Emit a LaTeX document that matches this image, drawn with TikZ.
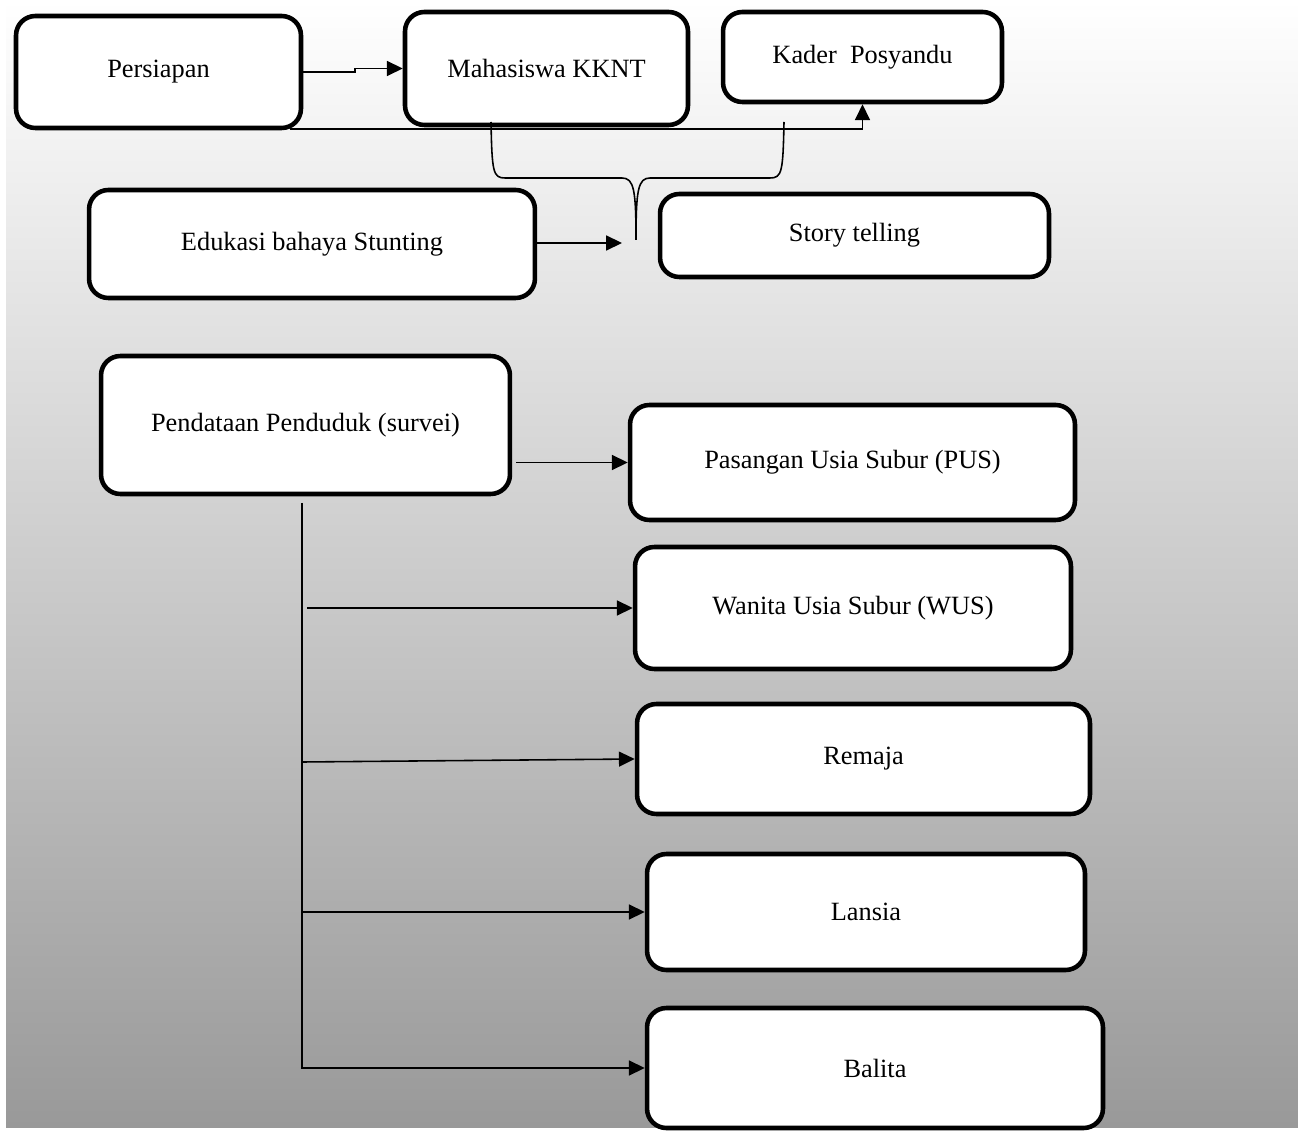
\documentclass[tikz,border=0pt]{standalone}
\usepackage{fontspec}
\setmainfont{Liberation Serif}
\usetikzlibrary{arrows.meta}
\begin{document}
\begin{tikzpicture}[x=0.02cm,y=-0.02cm,
  box/.style={draw,line width=2.6pt,rounded corners=11pt,fill=white,inner sep=0pt,font=\fontsize{15}{18}\selectfont},
  arr/.style={line width=0.9pt,-{Triangle[length=9pt,width=8.5pt]}}]
\useasboundingbox (0,0) rectangle (1298,1131);
\shade [top color=white,bottom color=black!40] (6,0) rectangle (1298,1127);
% top part
\node [box,minimum width=5.70cm,minimum height=2.24cm] (p) at (158.5,72) {Persiapan};
\node [box,minimum width=5.66cm,minimum height=2.26cm] (m) at (546.5,68.5) {Mahasiswa KKNT};
\node [box,minimum width=5.58cm,minimum height=1.80cm] (k) at (862.5,57) {Kader\ \ Posyandu};
\node [box,minimum width=8.92cm,minimum height=2.16cm] (e) at (312,244) {Edukasi bahaya Stunting};
\node [box,minimum width=7.78cm,minimum height=1.66cm] (s) at (854.5,235.5) {Story telling};
\draw [arr] (p.east) -- ++(52,0) |- (m.west);
\coordinate (pb) at (290,129);
\draw [arr] (pb) -| (k.south);
\coordinate (bl) at (491,122); \coordinate (br) at (784,122); \coordinate (bt) at (636,240);
\draw [line width=0.9pt] (bl) .. controls (492,172) and (493,178) .. (505,178) -- (622,178) .. controls (634,178) and (636,190) .. (bt);
\draw [line width=0.9pt] (br) .. controls (783,172) and (782,178) .. (770,178) -- (650,178) .. controls (638,178) and (636,190) .. (bt);
\coordinate (et) at (622,243);
\draw [arr] (e.east |- et) -- (et);
% survey part
\node [box,minimum width=8.18cm,minimum height=2.76cm] (pd) at (305.5,425) {Pendataan Penduduk (survei)};
\node [box,minimum width=8.90cm,minimum height=2.30cm] (pus) at (852.5,462.5) {Pasangan Usia Subur (PUS)};
\node [box,minimum width=8.72cm,minimum height=2.44cm] (wus) at (853,608) {Wanita Usia Subur (WUS)};
\node [box,minimum width=9.06cm,minimum height=2.20cm] (rem) at (863.5,759) {Remaja};
\node [box,minimum width=8.76cm,minimum height=2.32cm] (lan) at (866,912) {Lansia};
\node [box,minimum width=9.12cm,minimum height=2.40cm] (bal) at (875,1068) {Balita};
\draw [arr] ([xshift=0.08cm]pd.east |- pus.west) -- (pus.west);
\coordinate (tr) at (302,503);
\draw [arr] (tr) |- (bal.west);
\draw [arr] ([xshift=0.1cm]tr |- wus.west) -- (wus.west);
\draw [arr] ([yshift=-0.06cm]tr |- rem.west) -- (rem.west);
\draw [arr] (tr |- lan.west) -- (lan.west);
\end{tikzpicture}
\end{document}
